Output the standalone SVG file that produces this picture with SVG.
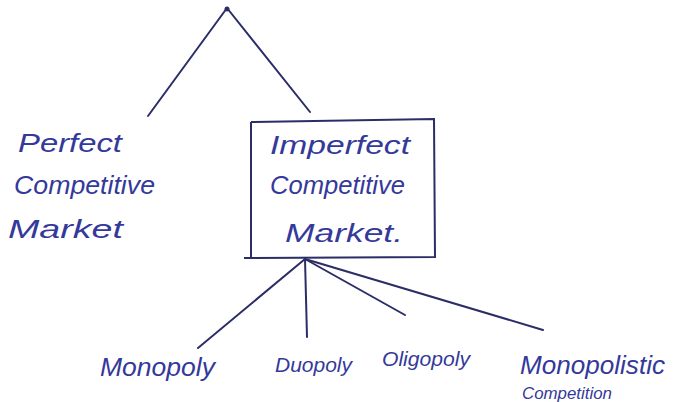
<svg xmlns="http://www.w3.org/2000/svg" width="673" height="402" viewBox="0 0 673 402">
<style>
.t{font-family:"Liberation Sans",Arial,sans-serif;font-style:italic;font-size:25px;fill:#34399a}
.c{stroke:#2b2e66;stroke-width:2;fill:none;stroke-linecap:round}
.box{stroke:#2b2e66;stroke-width:2;fill:none}
</style>
<rect width="673" height="402" fill="#ffffff"/>
<g id="connectors">
<path class="c" d="M227,8 L148,116"/>
<path class="c" d="M227,8 L310,112"/>
<path class="c" d="M305,259 L198,348"/>
<path class="c" d="M305,259 L307,337"/>
<path class="c" d="M305,259 L405,315"/>
<path class="c" d="M305,259 L543,330"/>
</g>
<g id="root"><circle cx="227" cy="9" r="2.5" fill="#2b2e66"/></g>
<g id="perfect">
<text class="t" x="18" y="152" textLength="104" lengthAdjust="spacingAndGlyphs">Perfect</text>
<text class="t" x="14" y="194" textLength="141" lengthAdjust="spacingAndGlyphs">Competitive</text>
<text class="t" x="8" y="238" textLength="115" lengthAdjust="spacingAndGlyphs">Market</text>
</g>
<g id="imperfect">
<path class="box" d="M251,122 L434,119 L435,257 L244,258 M251,122 L251,258"/>
<text class="t" x="270" y="154" textLength="140" lengthAdjust="spacingAndGlyphs">Imperfect</text>
<text class="t" x="270" y="194" textLength="135" lengthAdjust="spacingAndGlyphs">Competitive</text>
<text class="t" x="285" y="242" textLength="118" lengthAdjust="spacingAndGlyphs">Market.</text>
</g>
<g id="monopoly"><text class="t" x="100" y="376" textLength="115" lengthAdjust="spacingAndGlyphs">Monopoly</text></g>
<g id="duopoly"><text class="t" x="275" y="372" textLength="77" lengthAdjust="spacingAndGlyphs" style="font-size:21px">Duopoly</text></g>
<g id="oligopoly"><text class="t" x="382" y="366" textLength="88" lengthAdjust="spacingAndGlyphs" style="font-size:21px">Oligopoly</text></g>
<g id="monopolistic">
<text class="t" x="520" y="374" textLength="145" lengthAdjust="spacingAndGlyphs">Monopolistic</text>
<text class="t" x="522" y="399" style="font-size:16px" textLength="90" lengthAdjust="spacingAndGlyphs">Competition</text>
</g>
</svg>
